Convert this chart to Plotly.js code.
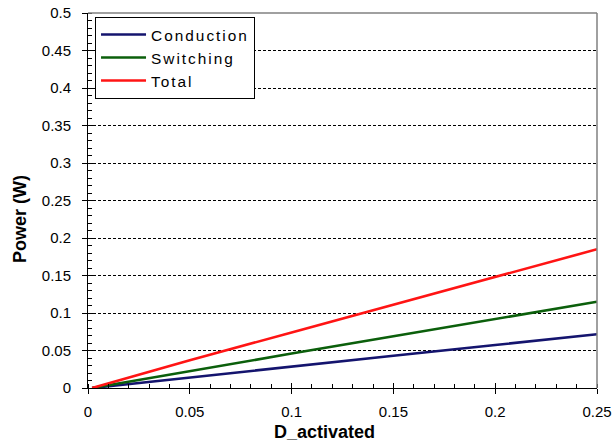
<!DOCTYPE html>
<html>
<head>
<meta charset="utf-8">
<script src="https://cdn.plot.ly/plotly-3.0.1.min.js"></script>
<style>
body{margin:0;padding:0;background:#fff;} #chart{width:612px;height:445px;}
.legendtext{letter-spacing:2px;}
</style>
</head>
<body>
<div id="chart"></div>
<script>
const dActivated = [0.002, 0.05, 0.1, 0.15, 0.2, 0.25];
const conduction = [0.0, 0.0142, 0.0286, 0.0430, 0.0573, 0.0716];
const switching  = [0.0, 0.0228, 0.0459, 0.0689, 0.0919, 0.1150];
const total      = [0.0, 0.0370, 0.0740, 0.1110, 0.1480, 0.1850];
const seriesNames = ["Conduction", "Switching", "Total"];
const xTitle = "D_activated";
const yTitle = "Power (W)";

const font = "Liberation Sans, Arial, sans-serif";
const traces = [
  {x: dActivated, y: conduction, name: seriesNames[0], mode: "lines", line: {color: "#14146e", width: 2.6}},
  {x: dActivated, y: switching,  name: seriesNames[1], mode: "lines", line: {color: "#0b5f0b", width: 2.6}},
  {x: dActivated, y: total,      name: seriesNames[2], mode: "lines", line: {color: "#ff1414", width: 2.6}}
];

const layout = {
  width: 612, height: 445,
  margin: {l: 88, r: 15, t: 13, b: 57},
  paper_bgcolor: "#fff", plot_bgcolor: "rgba(0,0,0,0)",
  font: {family: font, size: 15, color: "#000"},
  showlegend: true,
  legend: {x: 0.0138, y: 0.9893, xanchor: "left", yanchor: "top",
           bordercolor: "#000", borderwidth: 1, bgcolor: "#fff",
           font: {family: font, size: 15.4, color: "#000"},
           tracegroupgap: 0, itemwidth: 45},
  xaxis: {
    range: [0, 0.25], dtick: 0.05, tick0: 0,
    showline: true, linecolor: "#000", linewidth: 1,
    ticks: "outside", ticklen: 5, tickcolor: "#000",
    showgrid: false, zeroline: false,
    minor: {ticks: "inside", ticklen: 4, dtick: 0.01, tickcolor: "#000", showgrid: false},
    tickfont: {family: font, size: 15},
    ticklabelstandoff: 5
  },
  xaxis2: {
    overlaying: "x", range: [0, 0.25], dtick: 0.05, tick0: 0,
    ticks: "inside", ticklen: 5, tickcolor: "#000", showticklabels: false,
    showgrid: false, zeroline: false, showline: false, side: "bottom"
  },
  yaxis: {
    range: [0, 0.5], dtick: 0.05, tick0: 0,
    showline: true, linecolor: "#000", linewidth: 1,
    ticks: "outside", ticklen: 5, tickcolor: "#000",
    showgrid: true, gridcolor: "#000", griddash: "3px,2px", gridwidth: 1,
    zeroline: false,
    minor: {ticks: "inside", ticklen: 4, dtick: 0.01, tickcolor: "#000", showgrid: false},
    tickfont: {family: font, size: 15},
    ticklabelstandoff: 8
  },
  yaxis2: {
    overlaying: "y", range: [0, 0.5], dtick: 0.05, tick0: 0,
    ticks: "inside", ticklen: 5, tickcolor: "#000", showticklabels: false,
    showgrid: false, zeroline: false, showline: false, side: "left"
  },
  annotations: [
    {text: "<b>" + xTitle + "</b>", xref: "paper", yref: "paper", x: 0.4656, y: -0.1173,
     xanchor: "center", yanchor: "middle", showarrow: false, font: {family: font, size: 18}},
    {text: "<b>" + yTitle + "</b>", xref: "paper", yref: "paper", x: -0.1336, y: 0.4507,
     xanchor: "center", yanchor: "middle", textangle: -90, showarrow: false, font: {family: font, size: 18}}
  ],
  shapes: [
    {type: "line", xref: "paper", yref: "paper", x0: 0, x1: 1, y0: 1, y1: 1, line: {color: "#808080", width: 1.5}},
    {type: "line", xref: "paper", yref: "paper", x0: 1, x1: 1, y0: 0, y1: 1, line: {color: "#808080", width: 1.5}}
  ]
};

const axisMarks = [
  {x: [0.1], y: [0.25], xaxis: "x2", yaxis: "y2", mode: "markers", marker: {opacity: 0}, showlegend: false, hoverinfo: "skip"}
];

Plotly.newPlot("chart", traces.concat(axisMarks), layout, {displayModeBar: false, staticPlot: true});
</script>
</body>
</html>
